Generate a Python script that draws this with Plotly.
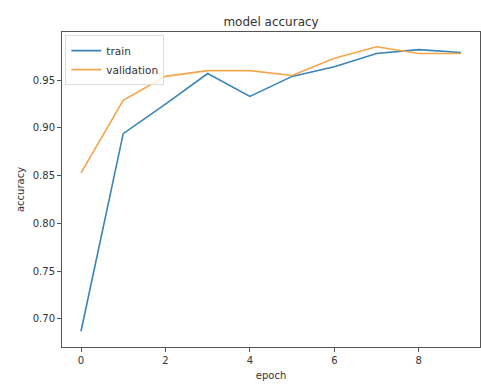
import plotly.graph_objects as go

epochs = [0, 1, 2, 3, 4, 5, 6, 7, 8, 9]
train_acc = [0.687, 0.894, 0.925, 0.957, 0.933, 0.954, 0.964, 0.978, 0.982, 0.979]
val_acc = [0.853, 0.929, 0.954, 0.960, 0.960, 0.955, 0.973, 0.985, 0.978, 0.978]
x_ticks = [0, 2, 4, 6, 8]
y_ticks = [0.70, 0.75, 0.80, 0.85, 0.90, 0.95]

font = "DejaVu Sans, sans-serif"
text_col = "#333333"

fig = go.Figure()
fig.add_trace(go.Scatter(x=epochs, y=train_acc, mode="lines", name="train",
                         line=dict(color="#3a84b8", width=1.6)))
fig.add_trace(go.Scatter(x=epochs, y=val_acc, mode="lines", name="validation",
                         line=dict(color="#f5a54a", width=1.6)))

axis_common = dict(showgrid=False, zeroline=False, showline=True, mirror=True,
                   linecolor="#555555", linewidth=1, ticks="outside", ticklen=4,
                   tickcolor="#555555", tickfont=dict(family=font, size=10, color=text_col))

fig.update_layout(
    width=481, height=385,
    margin=dict(l=62, r=1, t=32, b=38),
    paper_bgcolor="white", plot_bgcolor="white",
    title=dict(text="model accuracy", x=0.5635, xanchor="center", y=0.943, yanchor="middle",
               font=dict(family=font, size=12, color=text_col)),
    xaxis=dict(range=[-0.45, 9.45], tickvals=x_ticks,
               title=dict(text="epoch", standoff=6, font=dict(family=font, size=10, color=text_col)),
               **axis_common),
    yaxis=dict(range=[0.6705, 1.0005], tickvals=y_ticks, tickformat=".2f",
               title=dict(text="accuracy", standoff=6, font=dict(family=font, size=10, color=text_col)),
               **axis_common),
    legend=dict(x=0.008, y=0.99, xanchor="left", yanchor="top",
                bgcolor="rgba(255,255,255,0.8)", bordercolor="#dddddd", borderwidth=1,
                font=dict(family=font, size=10.5, color=text_col), tracegroupgap=0,
                itemwidth=30),
    showlegend=True,
)

fig.write_html("out.html")
